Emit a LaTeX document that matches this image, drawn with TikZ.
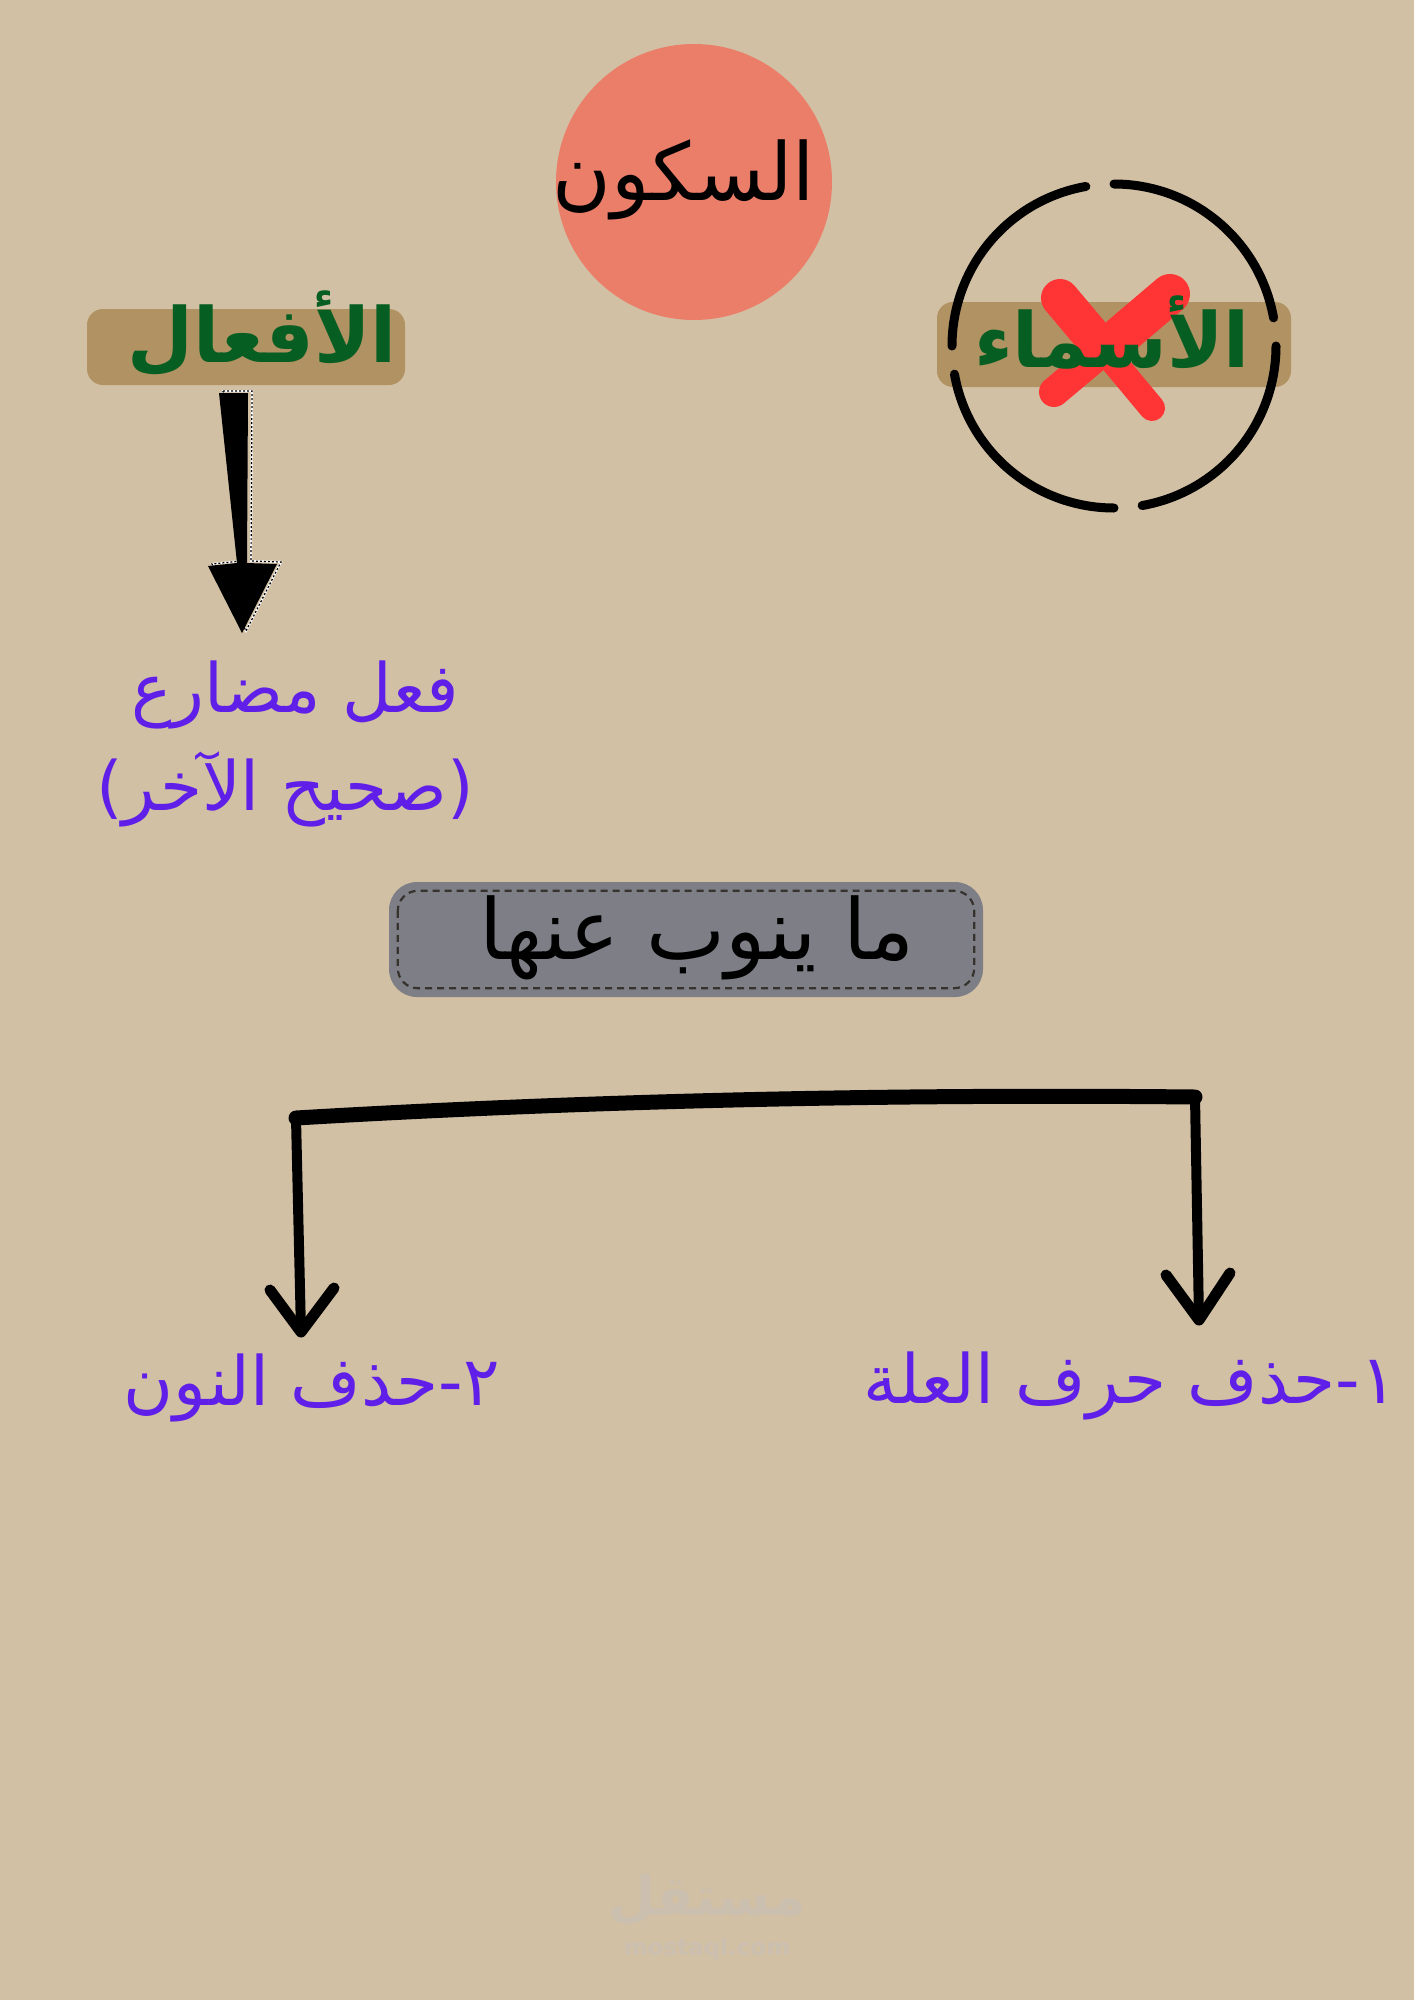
\documentclass[tikz,border=0pt]{standalone}
\usepackage{fontspec}
\TeXXeTstate=1
\newfontfamily\arfont[Script=Arabic]{DejaVu Sans}
\newfontfamily\wmfont{DejaVu Sans}
\definecolor{bgc}{RGB}{210,192,164}
\definecolor{salmon}{RGB}{235,126,105}
\definecolor{tagbrown}{RGB}{176,146,99}
\definecolor{tagtext}{RGB}{7,94,34}
\definecolor{purp}{RGB}{95,31,232}
\definecolor{grayfill}{RGB}{125,126,134}
\definecolor{dashc}{RGB}{55,50,45}
\definecolor{xred}{RGB}{255,53,53}
\definecolor{wmc}{RGB}{203,191,176}
\tikzset{
  ar/.style={inner sep=0pt, anchor=base},
  bigblack/.style={ar, font=\arfont\fontsize{80}{92}\selectfont, text=black},
  greentag/.style={ar, font=\arfont\bfseries\fontsize{76}{88}\selectfont, text=tagtext},
  purptext/.style={ar, font=\arfont\fontsize{68}{80}\selectfont, text=purp},
  tagbox/.style={fill=tagbrown, rounded corners=16pt},
  thickline/.style={line width=#1, line cap=round, line join=round, draw=black},
}
\begin{document}
\begin{tikzpicture}[x=1pt,y=1pt]
\fill[bgc] (0,0) rectangle (1414,-2000);
\useasboundingbox (0,0) rectangle (1414,-2000);

% title circle
\node[circle, fill=salmon, minimum size=276pt, inner sep=0pt] (sukun) at (694,-182) {};
\node[bigblack] (sukuntxt) at (684,-200) {\beginR السكون\endR};

% left tag
\fill[tagbox] (87,-309) rectangle (405,-385);
\node[greentag] (afaal) at (262,-362) {\beginR الأفعال\endR};
\coordinate (arrtop) at (233,-393);

% thick arrow with dashed shadow outline
\begin{scope}[shift={(arrtop)}]
  \draw[white, line width=2pt] ([shift={(4,2)}]-14,0) -- ([shift={(4,2)}]15,0) -- ([shift={(4,2)}]14,-170) -- ([shift={(4,2)}]44,-171) -- ([shift={(4,2)}]9,-240) -- ([shift={(4,2)}]-25,-173) -- ([shift={(4,2)}]4,-170) -- cycle;
  \draw[black, line width=1.2pt, dash pattern=on 2pt off 2pt] ([shift={(4,2)}]-14,0) -- ([shift={(4,2)}]15,0) -- ([shift={(4,2)}]14,-170) -- ([shift={(4,2)}]44,-171) -- ([shift={(4,2)}]9,-240) -- ([shift={(4,2)}]-25,-173) -- ([shift={(4,2)}]4,-170) -- cycle;
  \fill[black] (-14,0) -- (15,0) -- (14,-170) -- (44,-171) -- (9,-240) -- (-25,-173) -- (4,-170) -- cycle;
\end{scope}

\node[purptext] (mudari1) at (295,-712) {\beginR فعل مضارع\endR};
\node[purptext] (mudari2) at (285,-810) {\beginR (صحيح الآخر)\endR};

% right tag crossed out
\fill[tagbox] (937,-302) rectangle (1291,-387);
\draw[xred, line width=38pt, line cap=round] (1060,-298) -- (1102,-348);
\draw[xred, line width=26pt, line cap=round] (1102,-348) -- (1152,-408);
\draw[xred, line width=40pt, line cap=round] (1170,-294) -- (1110,-345);
\draw[xred, line width=30pt, line cap=round] (1110,-345) -- (1054,-392);
\node[greentag] (asmaa) at (1112,-367) {\beginR الأسماء\endR};
\coordinate (cc) at (1114,-346);
\foreach \a/\b in {10/90, 100/180, 190/270, 280/360}{
  \draw[thickline=9pt] ([shift={(\a:162)}]cc) arc[start angle=\a, end angle=\b, radius=162];
}

% gray box
\node[fill=grayfill, rounded corners=28pt, minimum width=594pt, minimum height=115pt, inner sep=0pt] (nubox) at (686,-939.5) {};
\draw[dashc, line width=2.2pt, dash pattern=on 7pt off 5pt, rounded corners=20pt] ([shift={(9,-9)}]nubox.north west) rectangle ([shift={(-9,9)}]nubox.south east);
\node[bigblack, font=\arfont\fontsize{84}{96}\selectfont] (nutxt) at (697,-959) {\beginR ما ينوب عنها\endR};

% bracket connector
\coordinate (bl) at (296,-1118);
\coordinate (br) at (1195,-1097);
\node[purptext] (nun) at (312,-1405) {\beginR ٢-حذف النون\endR};
\node[purptext] (illa) at (1130,-1403) {\beginR ١-حذف حرف العلة\endR};
\coordinate (ltip) at (301,-1332);
\coordinate (rtip) at (1199,-1320);
\draw[thickline=15pt] (bl) .. controls (600,-1100) and (900,-1094) .. (br);
\draw[thickline=10pt] (bl) -- (ltip);
\draw[thickline=10pt] (br) -- (rtip);
\draw[thickline=11pt] (270,-1290) -- (ltip) -- (334,-1288);
\draw[thickline=11pt] (1166,-1275) -- (rtip) -- (1230,-1273);

% watermark
\node[ar, font=\arfont\bfseries\fontsize{54}{60}\selectfont, text=wmc] (wm) at (707,-1915) {\beginR مستقل\endR};
\node[inner sep=0pt, anchor=base, font=\wmfont\bfseries\fontsize{23}{26}\selectfont, text=wmc] (wmurl) at (707,-1955) {mostaql.com};
\end{tikzpicture}
\end{document}
